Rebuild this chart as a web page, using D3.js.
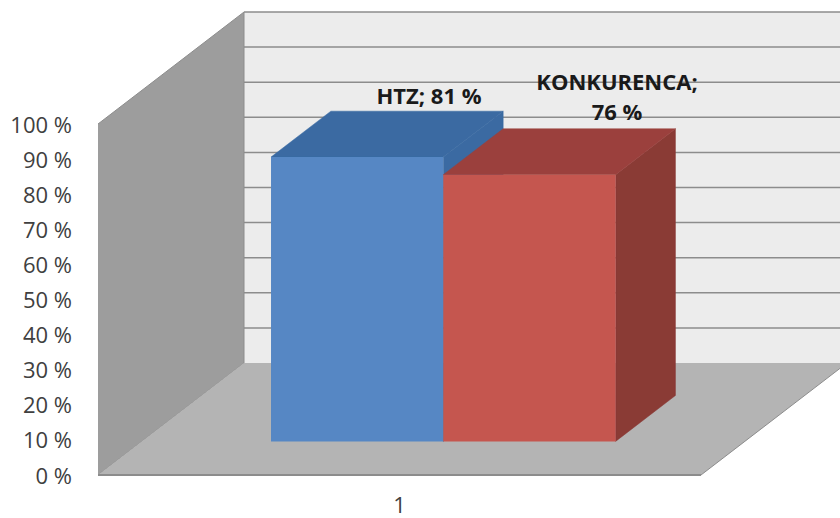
<!DOCTYPE html>
<html>
<head>
<meta charset="utf-8">
<script src="https://cdn.jsdelivr.net/npm/d3@7"></script>
<style>
  html, body { margin: 0; background: #fff; }
  svg { display: block; }
  text { font-family: "Open Sans", "Noto Sans", sans-serif; }
</style>
</head>
<body>
<svg id="chart"></svg>
<script>
const seriesNames = ['HTZ', 'KONKURENCA']
const seriesValues = [81, 76]
const categoryLabels = ['1']
const yTicks = [0, 10, 20, 30, 40, 50, 60, 70, 80, 90, 100]

const width = 840
const height = 518

// front plane of the 3d box, the rest is an oblique projection of it
const frontLeft = 98
const frontRight = 701
const frontBottom = 475
const frontTop = 124
const depthX = 146
const depthY = -112

const barDepthStart = 0.3
const barDepthEnd = 0.71

const faces = [
  { front: '#5787c4', top: '#3a6aa2', side: '#3a6aa2' },
  { front: '#c5574f', top: '#9b403c', side: '#8a3a36' }
]

const x = d3.scaleBand().domain(seriesNames).range([frontLeft, frontRight]).paddingInner(0).paddingOuter(0.75)
const xCategory = d3.scaleBand().domain(categoryLabels).range([frontLeft, frontRight])
const y = d3.scaleLinear().domain([0, 100]).range([frontBottom, frontTop])

const px = (vx, d) => vx + d * depthX
const py = (v, d) => y(v) + d * depthY
const poly = d3.line()

const svg = d3.select('svg#chart').attr('width', width).attr('height', height)

const soft = svg.append('defs').append('filter').attr('id', 'soft')
soft.append('feGaussianBlur').attr('stdDeviation', 0.45)

const g = svg.append('g').attr('filter', 'url(#soft)')

// back wall
g.append('path')
  .attr('d', poly([
    [px(frontLeft, 1), py(100, 1)], [px(frontRight, 1), py(100, 1)],
    [px(frontRight, 1), py(0, 1)], [px(frontLeft, 1), py(0, 1)]
  ]))
  .attr('fill', '#ececec')

g.selectAll('.grid')
  .data(yTicks.filter(d => d > 0))
  .enter().append('line')
  .attr('class', 'grid')
  .attr('x1', px(frontLeft, 1))
  .attr('x2', px(frontRight, 1))
  .attr('y1', d => py(d, 1))
  .attr('y2', d => py(d, 1))
  .attr('stroke', '#8c8c8c')
  .attr('stroke-width', 1.5)

// side wall
g.append('path')
  .attr('d', poly([
    [px(frontLeft, 0), py(100, 0)], [px(frontLeft, 1), py(100, 1)],
    [px(frontLeft, 1), py(0, 1)], [px(frontLeft, 0), py(0, 0)]
  ]))
  .attr('fill', '#9d9d9d')
  .attr('stroke', '#8c8c8c')

// floor
g.append('path')
  .attr('d', poly([
    [px(frontLeft, 0), py(0, 0)], [px(frontLeft, 1), py(0, 1)],
    [px(frontRight, 1), py(0, 1)], [px(frontRight, 0), py(0, 0)]
  ]))
  .attr('fill', '#b4b4b4')

g.append('line')
  .attr('x1', frontLeft).attr('x2', frontRight)
  .attr('y1', y(0)).attr('y2', y(0))
  .attr('stroke', '#8c8c8c').attr('stroke-width', 2)

g.append('line')
  .attr('x1', px(frontRight, 0)).attr('y1', py(0, 0))
  .attr('x2', px(frontRight, 1)).attr('y2', py(0, 1))
  .attr('stroke', '#8c8c8c')

// bars, back to front: side, top, front
seriesNames.forEach((name, i) => {
  const v = seriesValues[i]
  const x0 = x(name)
  const x1 = x0 + x.bandwidth()
  const a = barDepthStart
  const b = barDepthEnd
  const bar = g.append('g').attr('class', 'bar')

  bar.append('path')
    .attr('d', poly([
      [px(x1, a), py(v, a)], [px(x1, b), py(v, b)],
      [px(x1, b), py(0, b)], [px(x1, a), py(0, a)]
    ]) + 'Z')
    .attr('fill', faces[i].side)
    .attr('stroke', faces[i].side)
    .attr('stroke-width', 0.5)

  bar.append('path')
    .attr('d', poly([
      [px(x0, a), py(v, a)], [px(x0, b), py(v, b)],
      [px(x1, b), py(v, b)], [px(x1, a), py(v, a)]
    ]) + 'Z')
    .attr('fill', faces[i].top)
    .attr('stroke', faces[i].top)
    .attr('stroke-width', 0.5)

  bar.append('path')
    .attr('d', poly([
      [px(x0, a), py(v, a)], [px(x1, a), py(v, a)],
      [px(x1, a), py(0, a)], [px(x0, a), py(0, a)]
    ]) + 'Z')
    .attr('fill', faces[i].front)
})

// axes
const yAxis = d3.axisLeft(y).tickValues(yTicks).tickSize(0).tickPadding(0).tickFormat(d => d + ' %')
const yG = svg.append('g').attr('transform', 'translate(72,1)').call(yAxis)
yG.select('.domain').remove()
yG.selectAll('text').attr('font-size', 22).attr('fill', '#404040').style('font-family', '"Open Sans", sans-serif')

const xAxis = d3.axisBottom(xCategory).tickSize(0).tickPadding(0)
const xG = svg.append('g').attr('transform', 'translate(0,497)').call(xAxis)
xG.select('.domain').remove()
xG.selectAll('text').attr('font-size', 22).attr('fill', '#404040').style('font-family', '"Open Sans", sans-serif')

// data labels
const labels = svg.append('g').attr('font-size', 22).attr('font-weight', 700).attr('fill', '#1a1a1a').attr('text-anchor', 'middle')
labels.append('text')
  .attr('x', 429).attr('y', 104)
  .text(`${seriesNames[0]}; ${seriesValues[0]} %`)
labels.append('text')
  .attr('x', 617).attr('y', 90)
  .text(`${seriesNames[1]};`)
labels.append('text')
  .attr('x', 617).attr('y', 120)
  .text(`${seriesValues[1]} %`)
</script>
</body>
</html>
